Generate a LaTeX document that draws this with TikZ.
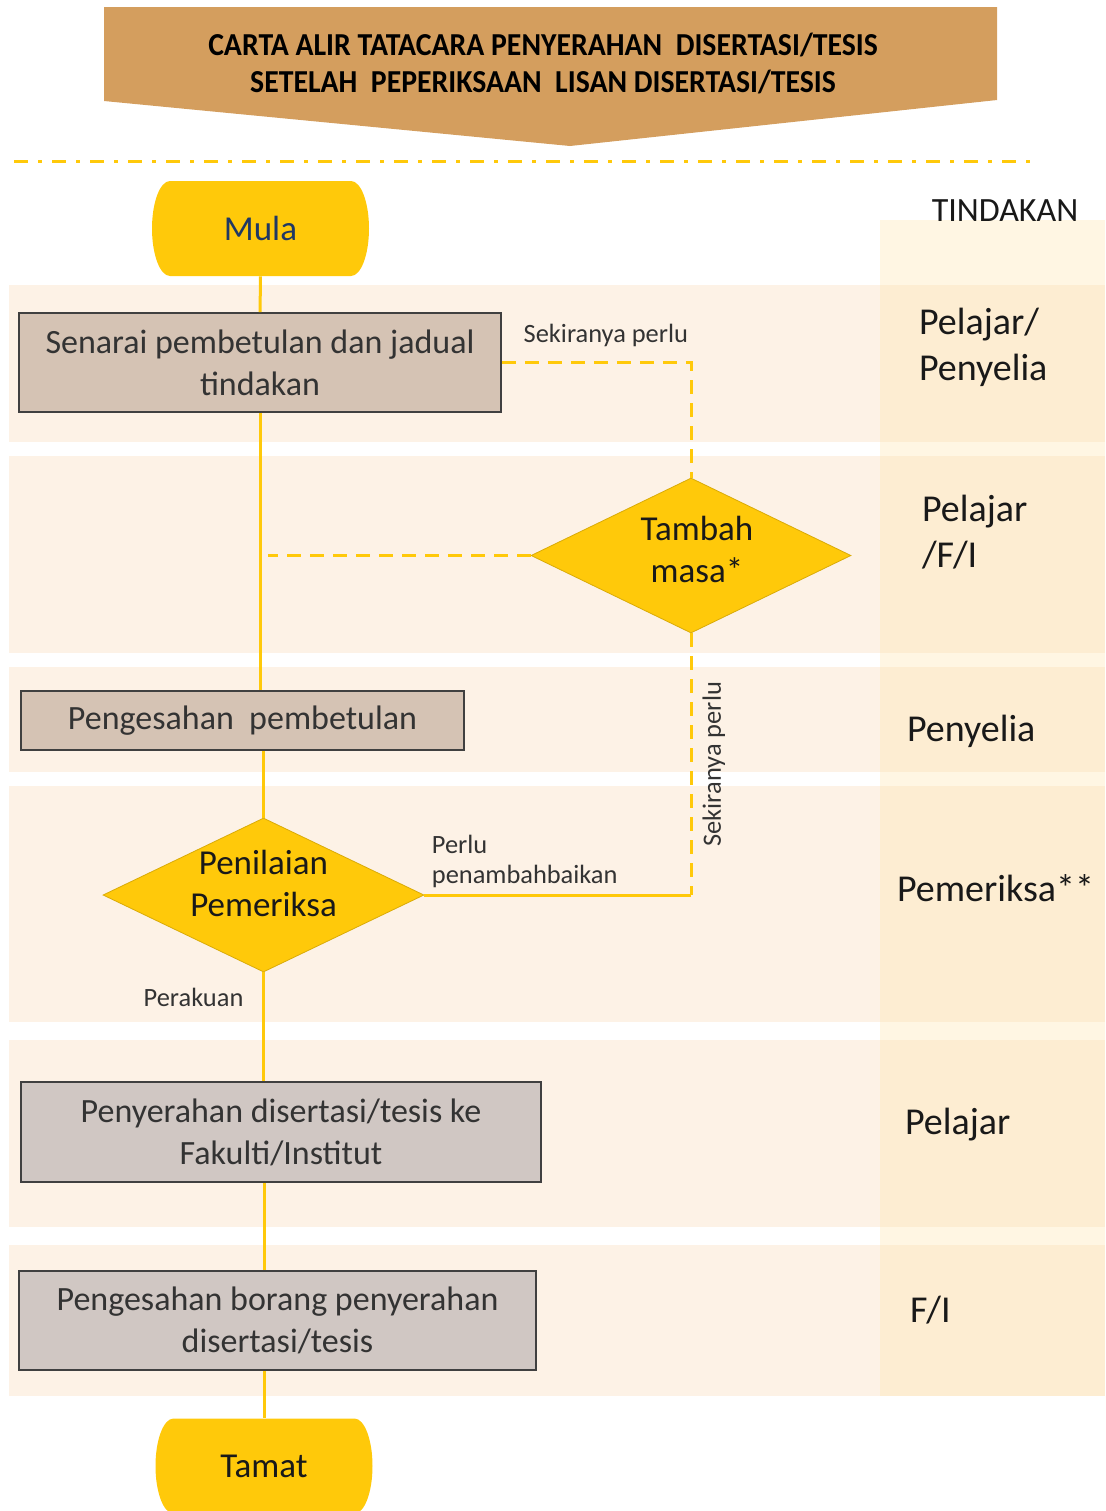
\documentclass[tikz,border=0pt]{standalone}
\usepackage{fontspec}
\setmainfont{Carlito}
\newfontfamily\titlefont[FakeStretch=0.93]{Carlito}
\usetikzlibrary{shapes.geometric,positioning}

\definecolor{hdrtan}{HTML}{D49E5E}
\definecolor{flowyellow}{HTML}{FFC90A}
\definecolor{bandpeach}{HTML}{FDF2E6}
\definecolor{colcream}{HTML}{FFF6E3}
\definecolor{colband}{HTML}{FDEDD2}
\definecolor{boxtaupe}{HTML}{D5C3B4}
\definecolor{boxgrey}{HTML}{D0C7C3}
\definecolor{boxline}{HTML}{404040}
\definecolor{textgrey}{HTML}{333333}
\definecolor{mulanavy}{HTML}{1F3864}

\begin{document}
\begin{tikzpicture}[
    x=0.5pt, y=-0.5pt,
    terminal/.style={rectangle, minimum width=108.5pt, minimum height=47.5pt, font=\fontsize{17.5}{21}\selectfont,
        path picture={\fill[flowyellow] ([xshift=9pt]path picture bounding box.north west)
            -- ([xshift=-9pt]path picture bounding box.north east)
            arc[start angle=90, end angle=-90, x radius=9pt, y radius=23.75pt]
            -- ([xshift=9pt]path picture bounding box.south west)
            arc[start angle=270, end angle=90, x radius=9pt, y radius=23.75pt] -- cycle;}},
    process/.style={rectangle, draw=boxline, line width=0.8pt, fill=boxtaupe, align=center, text=textgrey, inner sep=0pt, font=\fontsize{17}{21}\selectfont},
    decision/.style={diamond, aspect=2.07, draw=flowyellow!85!black, line width=0.4pt, fill=flowyellow, inner sep=0pt},
    decisiontext/.style={align=center, text=black!90, font=\fontsize{17.5}{21}\selectfont},
    smalllabel/.style={text=textgrey, align=left, font=\fontsize{13.2}{15}\selectfont},
    who/.style={anchor=west, align=left, text=black!90, font=\fontsize{19}{23}\selectfont},
    flowline/.style={flowyellow, line width=1.5pt},
    optline/.style={flowline, dash pattern=on 7pt off 4.5pt}
]
\useasboundingbox (0,0) rectangle (1105,1511);
\clip (0,0) rectangle (1105,1511);

% header
\fill[hdrtan] (104,7) -- (997,7) -- (997,100) -- (570,146) -- (104,101) -- cycle;
\node[align=center, font=\titlefont\bfseries\fontsize{16}{18.5}\selectfont] (title) at (543,63)
    {CARTA ALIR TATACARA PENYERAHAN\ \ DISERTASI/TESIS\\SETELAH\ \ PEPERIKSAAN\ \ LISAN DISERTASI/TESIS};
\draw[flowyellow, line width=1.5pt, dash pattern=on 7pt off 5pt on 2pt off 5pt] (14,161) -- (1037,161);

% lanes
\fill[colcream] (880,220) rectangle (1105,1396);
\foreach \ya/\yb in {285/442, 456/653, 667/772, 786/1022, 1040/1227, 1245/1396} {
    \fill[bandpeach] (9,\ya) rectangle (880,\yb);
    \fill[colband] (880,\ya) rectangle (1105,\yb);
}

% flow
\node[terminal, text=mulanavy] (mula) at (260.5,228.5) {Mula};
\node[process, minimum width=241pt, minimum height=49.5pt] (senarai) at (260,362.5) {Senarai pembetulan dan jadual\\tindakan};
\node[decision, minimum width=160pt, minimum height=77.5pt,
      label={[decisiontext, xshift=3pt, yshift=3pt]center:Tambah\\masa*}] (tambah) at (691,555.5) {};
\node[process, minimum width=221.5pt, minimum height=29.5pt] (pengesahan) at (242.5,720.5) {Pengesahan\ \ pembetulan};
\node[decision, minimum width=160.5pt, minimum height=77pt,
      label={[decisiontext, yshift=6pt]center:Penilaian\\Pemeriksa}] (penilaian) at (263.5,895) {};
\node[process, fill=boxgrey, minimum width=260pt, minimum height=50pt] (penyerahan) at (281,1132) {Penyerahan disertasi/tesis ke\\Fakulti/Institut};
\node[process, fill=boxgrey, minimum width=258.5pt, minimum height=49.5pt] (borang) at (277.5,1320.5) {Pengesahan borang penyerahan\\disertasi/tesis};
\node[terminal, text=black!90] (tamat) at (264,1466) {Tamat};
\coordinate (rejoin) at (268,555.5);

% who acts
\node[who, anchor=center, font=\fontsize{17}{21}\selectfont] (tindakan) at (1005,211) {TINDAKAN};
\node[who] (who1) at (912,347) {Pelajar/\\Penyelia};
\node[who] (who2) at (915,532) {Pelajar\\/F/I};
\node[who] (who3) at (900,731) {Penyelia};
\node[who] (who4) at (890,888) {Pemeriksa**};
\node[who] (who5) at (898,1125) {Pelajar};
\node[who] (who6) at (903,1310) {F/I};

% connectors
\draw[flowline] (mula) -- (senarai);
\draw[flowline] (senarai.south) -- (senarai.south |- pengesahan.north);
\draw[flowline] (penilaian.north |- pengesahan.south) -- (penilaian.north);
\draw[flowline] (penilaian.south) -- node[smalllabel, pos=.23, left=6pt] {Perakuan} (penilaian.south |- penyerahan.north);
\draw[flowline] (tamat.north |- penyerahan.south) -- (tamat.north |- borang.north);
\draw[flowline] (tamat.north |- borang.south) -- (tamat.north);

\draw[optline] (senarai.east) -- node[smalllabel, above=4pt, pos=.55] {Sekiranya perlu} (senarai.east -| tambah.north) -- (tambah.north);
\draw[optline] (tambah.west) -- (rejoin);
\draw[optline] (tambah.south) -- node[smalllabel, rotate=90, anchor=north, midway, inner sep=5pt] {Sekiranya perlu} (tambah.south |- penilaian.east);
\draw[flowline] (penilaian.east) -- node[smalllabel, pos=0, anchor=south west, inner sep=3pt] {Perlu\\penambahbaikan} (tambah.south |- penilaian.east);
\end{tikzpicture}
\end{document}
